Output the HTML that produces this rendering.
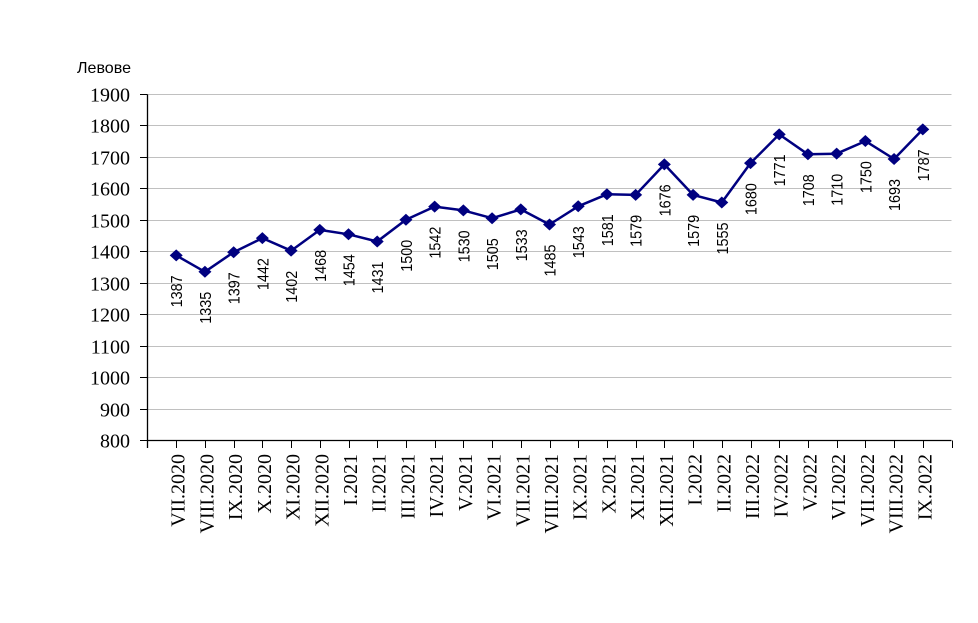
<!DOCTYPE html>
<html><head><meta charset="utf-8"><style>
html,body{margin:0;padding:0;background:#fff;}
svg{display:block;}
</style></head><body>
<svg width="978" height="623" xmlns="http://www.w3.org/2000/svg">
<rect width="978" height="623" fill="#fff"/>
<g id="grid" stroke="#c0c0c0" stroke-width="1"></g>
<g id="axes"></g>
<g id="series"></g>
<g id="labels"></g>
<text x="77" y="73" font-family="Liberation Sans, sans-serif" font-size="16" textLength="54" lengthAdjust="spacingAndGlyphs" fill="#000">Левове</text>
<script>
const NS="http://www.w3.org/2000/svg";
const vals=[1387,1335,1397,1442,1402,1468,1454,1431,1500,1542,1530,1505,1533,1485,1543,1581,1579,1676,1579,1555,1680,1771,1708,1710,1750,1693,1787];
const cats=["VII.2020","VIII.2020","IX.2020","X.2020","XI.2020","XII.2020","I.2021","II.2021","III.2021","IV.2021","V.2021","VI.2021","VII.2021","VIII.2021","IX.2021","X.2021","XI.2021","XII.2021","I.2022","II.2022","III.2022","IV.2022","V.2022","VI.2022","VII.2022","VIII.2022","IX.2022"];
const x0=147.5, xr=951.5, dx=(xr-x0)/28;
const Y=v=>440.3-(v-800)*0.315;
const X=i=>x0+dx*(i+1);
function el(tag,attrs,parent,txt){const e=document.createElementNS(NS,tag);for(const k in attrs)e.setAttribute(k,attrs[k]);if(txt!==undefined)e.textContent=txt;parent.appendChild(e);return e;}
const grid=document.getElementById('grid'),axes=document.getElementById('axes'),ser=document.getElementById('series'),lab=document.getElementById('labels');
for(let v=900;v<=1900;v+=100){const y=Math.round(Y(v))+0.5;el('line',{x1:x0,x2:xr,y1:y,y2:y},grid);}
for(let v=800;v<=1900;v+=100){const y=Math.round(Y(v))+0.5;
 el('line',{x1:140,x2:x0,y1:y,y2:y,stroke:'#000','stroke-width':1},axes);
 el('text',{x:130,y:y+7,'text-anchor':'end','font-family':'Liberation Serif, serif','font-size':20,fill:'#000'},axes,String(v));}
const ay=Math.round(Y(800))+0.5;
el('line',{x1:x0,x2:x0,y1:Math.round(Y(1900))+0.5,y2:448,stroke:'#000','stroke-width':1.3},axes);
el('line',{x1:x0,x2:xr,y1:ay,y2:ay,stroke:'#000','stroke-width':1.3},axes);
for(let i=0;i<=27;i++){const x=Math.round(X(i))+0.5;el('line',{x1:x,x2:x,y1:ay,y2:448,stroke:'#000','stroke-width':1},axes);}
let pts=vals.map((v,i)=>X(i).toFixed(1)+','+Y(v).toFixed(1)).join(' ');
el('polyline',{points:pts,fill:'none',stroke:'#000080','stroke-width':2.5,'stroke-linejoin':'round'},ser);
vals.forEach((v,i)=>{const x=X(i),y=Y(v),rx=6.5,ry=6;
 el('polygon',{points:`${x},${y-ry} ${x+rx},${y} ${x},${y+ry} ${x-rx},${y}`,fill:'#000080'},ser);
 el('text',{transform:`translate(${(x+6).toFixed(1)},${(y+20).toFixed(1)}) rotate(-90)`,'text-anchor':'end','font-family':'Liberation Sans, sans-serif','font-size':16,textLength:32,lengthAdjust:'spacingAndGlyphs',fill:'#000'},lab,String(v));
 el('text',{transform:`translate(${(x+8.5).toFixed(1)},454) rotate(-90)`,'text-anchor':'end','font-family':'Liberation Serif, serif','font-size':20,fill:'#000'},lab,cats[i]);
});
</script>
</svg>
</body></html>
